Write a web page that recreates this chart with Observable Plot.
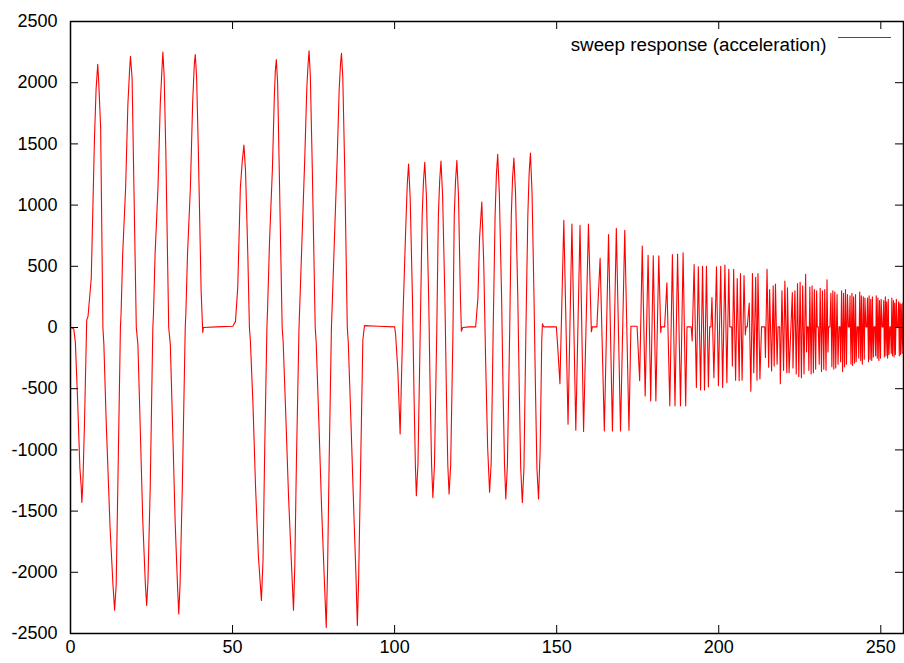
<!DOCTYPE html>
<html>
<head>
<meta charset="utf-8">
<script src="https://cdn.jsdelivr.net/npm/d3@7"></script>
<script src="https://cdn.jsdelivr.net/npm/@observablehq/plot@0.6"></script>
<style>
  body { margin: 0; background: #fff; }
  #chart { position: relative; width: 904px; height: 663px; }
</style>
</head>
<body>
<div id="chart"></div>
<script>
// time (x) values
const t = [
  0, 1.0, 1.5, 2.2, 2.9, 3.3, 3.5, 3.8, 4.3, 5.0, 5.4, 6.4, 7.4, 7.9, 8.4, 8.7, 9.3, 10.0,
  10.3, 11.0, 12.2, 13.1, 13.6, 14.1, 14.6, 15.4,
  15.6, 16.1, 17.0, 17.7, 18.2, 18.5, 19.0, 19.4, 20.3,
  20.8, 21.6, 22.3, 23.1, 23.5, 23.9, 24.6, 25.4,
  25.6, 26.1, 27.0, 27.7, 28.2, 28.5, 28.9, 29.4, 30.3,
  30.8, 31.6, 32.3, 33.0, 33.4, 33.8, 34.5, 35.4,
  35.6, 36.1, 37.0, 37.7, 38.2, 38.5, 38.9, 39.4, 40.3, 40.8, 41.0, 45.0, 50.1,
  50.9, 51.6, 52.4, 53.0, 53.5, 54.0, 54.7, 55.2,
  55.5, 56.3, 57.1, 58.0, 58.9, 59.4, 59.9, 60.6,
  60.8, 61.4, 62.3, 62.9, 63.2, 63.5, 63.9, 64.4, 65.3,
  65.6, 66.4, 67.3, 68.2, 68.8, 69.2, 69.7, 70.5,
  70.7, 71.4, 72.3, 72.9, 73.3, 73.6, 74.0, 74.6, 75.5,
  75.8, 76.6, 77.5, 78.3, 78.9, 79.3, 79.8, 80.5,
  80.7, 81.4, 82.3, 82.9, 83.3, 83.6, 84.0, 84.6, 85.4,
  85.7, 86.5, 87.4, 88.1, 88.5, 88.9, 89.6, 90.2, 90.7, 95.0, 100.0,
  100.3, 101.0, 101.7, 102.6, 103.4, 103.9, 104.3, 104.8, 105.5, 106.0, 106.4, 106.7, 107.2,
  107.9, 108.5, 108.9, 109.3, 109.8, 110.5, 111.0, 111.4, 111.8, 112.3,
  113.0, 113.5, 113.9, 114.3, 114.8, 115.5, 116.0, 116.4, 116.8, 117.3,
  118.0, 118.4, 118.8, 119.2, 119.7, 120.3, 120.6, 121.0, 123.0, 125.0,
  125.7, 126.2, 126.9, 127.5, 128.1, 128.7, 129.3, 129.8,
  130.4, 131.0, 131.4, 131.8, 132.3, 133.0, 133.5, 133.9, 134.3, 134.8,
  135.5, 136.0, 136.4, 136.8, 137.3, 138.0, 138.5, 138.9, 139.4, 139.9,
  140.5, 141.1, 141.5, 141.9, 142.4, 143.0, 143.5, 143.9, 144.4, 144.9, 145.4, 145.6, 146.0, 149.9,
  150.3, 151.0, 152.2, 153.5, 154.7, 155.9, 157.2, 158.3, 159.8, 160.7, 161.0, 162.4,
  163.4, 164.7, 166.0, 167.2, 168.4, 169.7, 171.0, 172.3, 172.9, 174.8,
  175.6, 176.4, 177.3, 178.2, 179.0, 179.8, 180.6, 181.5, 182.1, 182.3, 183.3,
  184.0, 184.9, 185.7, 186.5, 187.3, 188.2, 189.0, 189.8, 190.2, 191.5,
  191.8, 192.4, 193.1, 193.7, 194.4, 195.0, 195.6, 196.2, 196.8, 197.2, 197.6,
  197.9, 198.5, 199.3, 199.9, 200.6, 201.2, 201.9, 202.5, 203.1, 203.4, 204.0,
  204.2, 204.6, 205.2, 205.7, 206.3, 206.7, 207.2, 207.8, 208.2, 208.4, 208.8,
  209.4, 209.9, 210.4, 210.8, 211.4, 211.8, 212.1, 212.7, 213.2, 214.2,
  214.4, 214.9, 215.4, 215.7, 216.3, 216.8, 217.1, 217.5, 218.0, 218.3, 218.8,
  219.0, 219.5, 220.0, 220.4, 221.0, 221.2, 221.7, 222.7, 222.9, 223.2,
  223.5, 223.9, 224.3, 224.7, 225.1, 225.5, 225.9, 226.3, 226.8, 227.1, 227.3, 227.6,
  227.8, 228.1, 228.5, 228.8, 229.2, 229.5, 229.9, 230.2, 230.4, 230.7,
  231.0, 231.3, 231.7, 232.0, 232.4, 232.7, 233.1, 233.4, 233.7, 233.9, 234.3,
  234.6, 234.9, 235.2, 235.5, 235.8, 236.1, 236.5, 236.8, 237.1, 237.4,
  237.6, 237.9, 238.2, 238.5, 238.8, 239.1, 239.4, 239.7, 240.0, 240.3,
  240.5, 240.8, 241.1, 241.3, 241.6, 241.9, 242.2, 242.4, 242.7, 243.0,
  243.2, 243.5, 243.8, 244.0, 244.3, 244.6, 244.9, 245.1, 245.4, 245.7,
  245.9, 246.2, 246.4, 246.7, 246.9, 247.2, 247.4, 247.7, 247.9, 248.2,
  248.4, 248.6, 248.9, 249.1, 249.4, 249.6, 249.9, 250.1, 250.4, 250.7,
  250.9, 251.1, 251.4, 251.6, 251.8, 252.1, 252.3, 252.5, 252.8, 253.0,
  253.2, 253.4, 253.6, 253.9, 254.1, 254.3, 254.5, 254.8, 255.0, 255.3,
  255.5, 255.7, 255.9, 256.1, 256.3, 256.6, 256.8, 257.0
];
// acceleration values
const accel = [
  0, -10, -120, -600, -1150, -1300, -1430, -1280, -800, 60, 90, 400, 1550, 1950, 2150, 2010, 1630, 0,
  -140, -760, -1630, -2100, -2310, -2100, -1300, 0,
  110, 600, 1140, 1820, 2090, 2215, 2040, 1410, 0,
  -140, -900, -1580, -2100, -2270, -2070, -1300, 0,
  110, 600, 1150, 1830, 2100, 2250, 2050, 1450, 0,
  -140, -900, -1600, -2100, -2340, -2100, -1300, 0,
  120, 600, 1150, 1850, 2150, 2230, 2050, 1500, 300, -40, 0, 5, 10,
  50, 330, 1140, 1360, 1490, 1280, 600, 0,
  -110, -630, -1310, -1880, -2230, -1900, -1030, 0,
  150, 700, 1300, 1900, 2100, 2190, 2000, 1300, 0,
  -110, -700, -1400, -1950, -2310, -1950, -1100, 0,
  150, 700, 1400, 1950, 2150, 2260, 2050, 1300, 0,
  -120, -750, -1500, -2050, -2450, -2000, -1100, 0,
  150, 700, 1400, 1950, 2150, 2240, 2050, 1300, 0,
  -120, -750, -1500, -2050, -2435, -2050, -1000, -100, 15, 10, 5,
  -55, -355, -870, 110, 790, 1170, 1335, 1060, 240, -570, -1120, -1375, -1120,
  -30, 920, 1195, 1350, 1080, 250, -570, -1120, -1390, -1120,
  -30, 920, 1200, 1360, 1080, 250, -570, -1120, -1360, -1120,
  -30, 920, 1200, 1365, 1080, 250, -30, 0, 5, 5,
  240, 730, 1025, 515, -300, -980, -1345, -1100,
  -30, 920, 1250, 1415, 1100, 250, -570, -1120, -1400, -1120,
  -30, 920, 1230, 1385, 1100, 250, -570, -1150, -1430, -1150,
  -30, 920, 1260, 1425, 1100, 250, -570, -1150, -1400, -1000, -100, 30, 5, 5,
  -150, -460, 875, -790, 845, -840, 835, -850, 845, -35, 5, 5,
  565, -845, 760, -845, 810, -845, 795, -840, 10, 10,
  -435, 665, -560, 590, -600, 585, -600, 585, -40, 5, 5,
  365, -640, 595, -640, 600, -640, 610, -640, 5, 5,
  -110, 515, -490, 495, -510, 500, -510, 500, -485, 5, 5,
  245, -410, 495, -475, 500, -490, 510, -450, 475, 5, 5,
  -315, 475, -430, 400, -435, 440, -430, 425, -60, 5, 5,
  200, -520, 440, -370, 410, -430, 440, -420, 5, 5,
  -245, 475, -325, 310, -355, 340, -315, 355, -300, 5, 5,
  -460, 300, -350, 380, -370, 325, -370, 285, -330, 5,
  300, -380, 360, -400, 370, -410, 340, -380, 434, -200, 5, 5,
  -350, 330, -380, 340, -370, 310, -340, 300, 5, 5,
  -300, 320, -360, 300, -340, 310, -350, 390, -200, 5, 5,
  280, -320, 300, -340, 290, -330, 270, -300, 5, 5,
  -280, 300, -360, 280, -320, 310, -300, 270, 5, 5,
  260, -300, 280, -310, 250, -290, 270, -280, 5, 5,
  -250, 290, -270, 260, -300, 250, -260, 240, 5, 5,
  240, -280, 260, -260, 230, -270, 250, -240, 5, 5,
  -230, 260, -250, 240, -270, 220, -250, 230, 5, 5,
  220, -240, 250, -230, 210, -250, 230, -220, 5, 5,
  -210, 240, -230, 220, -240, 200, -220, 230, 5, 5,
  210, -230, 200, -220, 190, -210, 200, -150
];
const xTicks = [0, 50, 100, 150, 200, 250];
const yTicks = [-2500, -2000, -1500, -1000, -500, 0, 500, 1000, 1500, 2000, 2500];
const seriesLabel = "sweep response (acceleration)";
const seriesColor = "#ff0000";

const data = t.map((x, i) => ({t: x, a: accel[i]}));

const W = 904, H = 663, mL = 70, mR = 1, mT = 21, mB = 30;
const pw = W - mL - mR, ph = H - mT - mB;
const font = "'Liberation Sans', Arial, Helvetica, sans-serif";

const chart = Plot.plot({
  width: W, height: H,
  marginLeft: mL, marginRight: mR, marginTop: mT, marginBottom: mB,
  style: {fontFamily: font, fontSize: "18px", background: "#fff", color: "#000", overflow: "visible"},
  x: {domain: [0, 257]},
  y: {domain: [-2500, 2500]},
  marks: [
    Plot.line(data, {x: "t", y: "a", stroke: seriesColor, strokeWidth: 1.1}),
    // inward tick marks (gnuplot style, mirrored)
    Plot.tickY(yTicks, {y: d => d, stroke: "#000", strokeWidth: 1, insetRight: pw - 8}),
    Plot.tickY(yTicks, {y: d => d, stroke: "#000", strokeWidth: 1, insetLeft: pw - 8}),
    Plot.tickX(xTicks, {x: d => d, stroke: "#000", strokeWidth: 1, insetTop: ph - 8}),
    Plot.tickX(xTicks, {x: d => d, stroke: "#000", strokeWidth: 1, insetBottom: ph - 8}),
    Plot.frame({stroke: "#000", strokeWidth: 1.5}),
    Plot.axisX({ticks: xTicks, tickSize: 0, tickPadding: 7, label: null, fontSize: 18, tickFormat: d => String(d)}),
    Plot.axisY({ticks: yTicks, tickSize: 0, tickPadding: 13, label: null, fontSize: 18, tickFormat: d => String(d)}),
    Plot.text([seriesLabel], {frameAnchor: "top-right", dx: -77, dy: 16, textAnchor: "end", fontSize: 18.8, fill: "#000"})
  ]
});

document.getElementById("chart").appendChild(chart);

// legend sample line
d3.select(chart).append("line")
  .attr("x1", W - mR - 65).attr("x2", W - mR - 12)
  .attr("y1", mT + 16.5).attr("y2", mT + 16.5)
  .attr("stroke", seriesColor).attr("stroke-width", 1);
</script>
</body>
</html>
